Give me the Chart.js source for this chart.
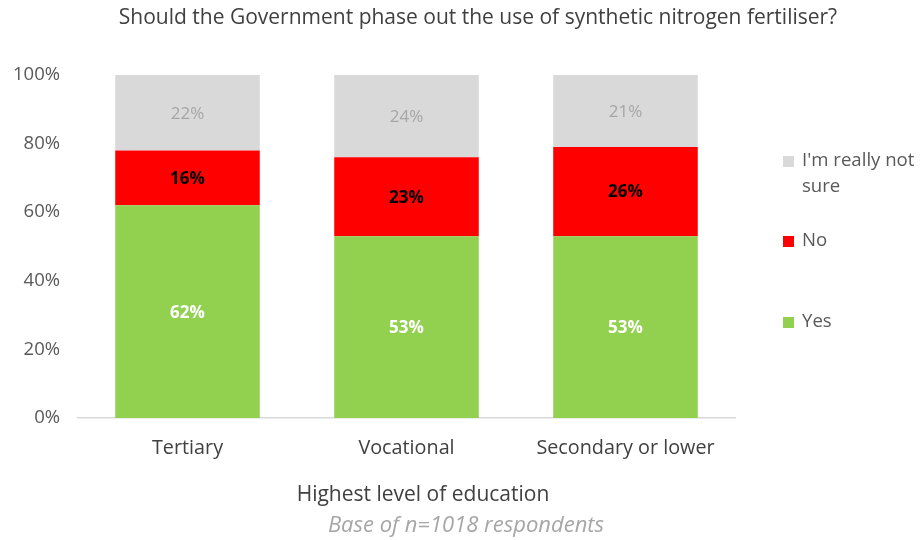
<!DOCTYPE html>
<html>
<head>
<meta charset="utf-8">
<script src="https://cdn.jsdelivr.net/npm/chart.js@4.4.1/dist/chart.umd.min.js"></script>
<style>
  html, body { margin: 0; padding: 0; background: #fff; }
  #wrap { width: 920px; height: 540px; }
</style>
</head>
<body>
<div id="wrap"><canvas id="grafico" width="920" height="540"></canvas></div>
<script>
// datos
const categorias = ['Tertiary', 'Vocational', 'Secondary or lower'];
const si = [62, 53, 53];
const no = [16, 23, 26];
const noSeguro = [22, 24, 21];
const ticksY = ['0%', '20%', '40%', '60%', '80%', '100%'];

const titulo = 'Should the Government phase out the use of synthetic nitrogen fertiliser?';
const tituloX = 'Highest level of education';
const nota = 'Base of n=1018 respondents';

const FUENTE = '"Open Sans", sans-serif';

const etiquetas = {
    id: 'etiquetas',
    afterDatasetsDraw(chart) {
        const ctx = chart.ctx;
        ctx.save();
        ctx.textAlign = 'center';
        ctx.textBaseline = 'middle';
        chart.data.datasets.forEach((ds, i) => {
            const meta = chart.getDatasetMeta(i);
            ctx.font = (ds.etiquetaNormal ? '' : 'bold ') + '17px ' + FUENTE;
            ctx.fillStyle = ds.colorEtiqueta;
            meta.data.forEach((bar, j) => {
                const medio = (bar.y + bar.base) / 2;
                ctx.fillText(ds.data[j] + '%', bar.x, medio + 1);
            });
        });
        ctx.restore();
    },
    afterDraw(chart) {
        const ctx = chart.ctx;
        ctx.save();
        ctx.textBaseline = 'middle';
        ctx.textAlign = 'center';
        ctx.fillStyle = '#404040';
        ctx.font = '21px ' + FUENTE;
        ctx.fillText(titulo, 478, 18);
        ctx.font = '21px ' + FUENTE;
        ctx.fillText(tituloX, 423, 495);
        ctx.fillStyle = '#a6a6a6';
        ctx.font = 'italic 22px ' + FUENTE;
        ctx.fillText(nota, 466, 526);

        // leyenda a la derecha
        const items = [
            { ds: 2, lineas: ["I'm really not", 'sure'], y: 161 },
            { ds: 1, lineas: ['No'], y: 241 },
            { ds: 0, lineas: ['Yes'], y: 322 }
        ];
        ctx.textAlign = 'left';
        ctx.font = '18.6px ' + FUENTE;
        items.forEach(it => {
            ctx.fillStyle = chart.data.datasets[it.ds].backgroundColor;
            ctx.fillRect(783, it.y - 5, 11, 11);
            ctx.fillStyle = '#595959';
            it.lineas.forEach((l, k) => ctx.fillText(l, 802, it.y + k * 26));
        });
        ctx.restore();
    }
};

new Chart(document.getElementById('grafico'), {
    type: 'bar',
    data: {
        labels: categorias,
        datasets: [
            { label: 'Yes', data: si, backgroundColor: '#92d050', colorEtiqueta: '#ffffff' },
            { label: 'No', data: no, backgroundColor: '#ff0000', colorEtiqueta: '#000000' },
            { label: "I'm really not sure", data: noSeguro, backgroundColor: '#d9d9d9', colorEtiqueta: '#a6a6a6', etiquetaNormal: true }
        ]
    },
    options: {
        responsive: false,
        animation: false,
        layout: { padding: { top: 75, right: 185, left: 0, bottom: 0 } },
        plugins: {
            legend: { display: false },
            title: { display: false },
            tooltip: { enabled: false }
        },
        datasets: { bar: { barPercentage: 0.66, categoryPercentage: 1 } },
        scales: {
            x: {
                stacked: true,
                grid: { display: false },
                border: { display: true, color: '#d9d9d9', width: 1.5 },
                ticks: { color: '#404040', font: { family: FUENTE, size: 19.8 }, padding: 10 },
                afterFit(s) { s.height = 122; }
            },
            y: {
                stacked: true,
                min: 0,
                max: 100,
                grid: { display: false },
                border: { display: false },
                ticks: {
                    stepSize: 20,
                    color: '#595959',
                    padding: 10,
                    font: { family: FUENTE, size: 18.5 },
                    callback: (v, i) => ticksY[i]
                },
                afterFit(s) { s.width = 78; }
            }
        }
    },
    plugins: [etiquetas]
});
</script>
</body>
</html>
